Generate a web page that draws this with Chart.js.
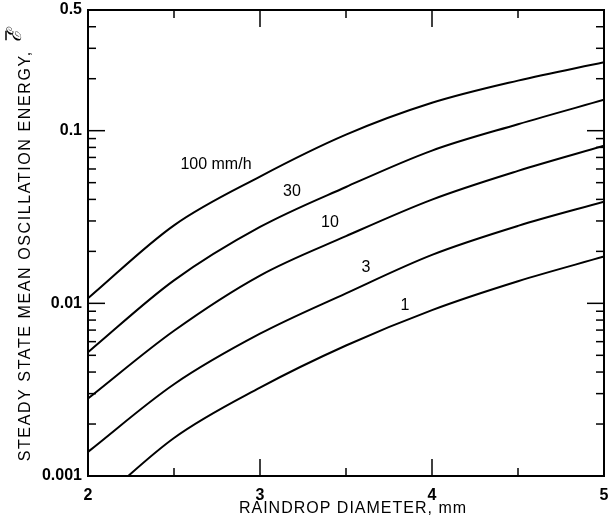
<!DOCTYPE html>
<html>
<head>
<meta charset="utf-8">
<script src="https://cdn.jsdelivr.net/npm/chart.js@4"></script>
<style>
  html, body { margin: 0; padding: 0; background: #fff; }
  #wrap { width: 614px; height: 525px; }
</style>
</head>
<body>
<div id="wrap"><canvas id="energyChart"></canvas></div>
<script>
// raindrop diameter (mm) where the curves were read
const diameters = [2, 2.5, 3, 3.5, 4, 4.5, 5];

// steady state mean oscillation energy for each rain rate
const rate100 = [0.0107, 0.0283, 0.0542, 0.0948, 0.145, 0.195, 0.249];
const rate30  = [0.00521, 0.01358, 0.0277, 0.0472, 0.0767, 0.109, 0.151];
const rate10  = [0.00281, 0.00694, 0.01449, 0.0245, 0.0399, 0.0585, 0.0818];
const rate3   = [0.00138, 0.0034, 0.00667, 0.01143, 0.0191, 0.0281, 0.0388];
const rate1   = [0.00062, 0.00166, 0.00325, 0.0057, 0.00914, 0.01343, 0.01867];

// curve labels and where they sit (data units)
const curveLabels = ['100 mm/h', '30', '10', '3', '1'];
const labelX = [2.744, 3.186, 3.407, 3.616, 3.843];
const labelY = [0.0634, 0.0441, 0.0292, 0.0162, 0.00973];

// axis tick labels and titles
const xTicks = [2, 3, 4, 5];
const yTicks = [0.001, 0.01, 0.1, 0.5];
const xTitle = 'RAINDROP DIAMETER, mm';
const yTitle = 'STEADY STATE MEAN OSCILLATION ENERGY,';
const ySymbol = '\u2130';

const FONT = "'Liberation Sans', Arial, Helvetica, sans-serif";

function series(vals) {
  return {
    data: diameters.map((d, i) => ({ x: d, y: vals[i] })),
    borderColor: '#000',
    borderWidth: 2,
    pointRadius: 0,
    fill: false,
    cubicInterpolationMode: 'monotone'
  };
}

// frame, inward ticks on all four sides, titles and the curve labels
const framePlugin = {
  id: 'frame',
  afterDraw(chart) {
    const ctx = chart.ctx;
    const a = chart.chartArea;
    const xs = chart.scales.x, ys = chart.scales.y;
    ctx.save();
    ctx.strokeStyle = '#000';
    ctx.lineWidth = 2;
    ctx.strokeRect(a.left, a.top, a.right - a.left, a.bottom - a.top);

    ctx.lineWidth = 1.5;
    const tick = (x1, y1, x2, y2) => {
      ctx.beginPath(); ctx.moveTo(x1, y1); ctx.lineTo(x2, y2); ctx.stroke();
    };

    // x: long at whole mm, short at halves
    for (let v = 2.5; v < 5; v += 0.5) {
      const len = Number.isInteger(v) ? 17 : 8;
      const px = xs.getPixelForValue(v);
      tick(px, a.bottom, px, a.bottom - len);
      tick(px, a.top, px, a.top + len);
    }

    // y: long at decades, short at 2..9 multiples
    const yMarks = [];
    for (let dec = 0.001; dec < 0.5; dec *= 10) {
      for (let m = 1; m <= 9; m++) {
        const v = +(dec * m).toPrecision(3);
        if (v <= 0.001 || v >= 0.5) continue;
        yMarks.push({ v, major: m === 1 });
      }
    }
    yMarks.forEach(t => {
      const len = t.major ? 17 : 8;
      const py = ys.getPixelForValue(t.v);
      tick(a.left, py, a.left + len, py);
      tick(a.right, py, a.right - len, py);
    });

    ctx.fillStyle = '#000';
    ctx.font = '16px ' + FONT;
    ctx.textAlign = 'center';
    ctx.textBaseline = 'middle';
    curveLabels.forEach((t, i) => {
      ctx.fillText(t, xs.getPixelForValue(labelX[i]), ys.getPixelForValue(labelY[i]));
    });

    // axis titles, slightly spaced out
    ctx.letterSpacing = '1px';
    ctx.fillText(xTitle, 353, 509);

    ctx.save();
    ctx.translate(26, 245);
    ctx.rotate(-Math.PI / 2);
    ctx.letterSpacing = '1.6px';
    ctx.font = '16px ' + FONT;
    const w1 = ctx.measureText(yTitle).width;
    ctx.font = 'italic 20px ' + FONT;
    const w2 = ctx.measureText(ySymbol).width;
    const start = -(w1 + 8 + w2) / 2;
    ctx.textAlign = 'left';
    ctx.font = '16px ' + FONT;
    ctx.fillText(yTitle, start, 0);
    ctx.letterSpacing = '0px';
    ctx.font = 'italic 20px ' + FONT;
    const sx = start + w1 + 8;
    ctx.fillText(ySymbol, sx, -11);
    ctx.lineWidth = 1.5;
    tick(sx + 2, -20, sx + w2 - 2, -20);
    ctx.restore();

    ctx.restore();
  }
};

new Chart(document.getElementById('energyChart'), {
  type: 'line',
  data: {
    datasets: [series(rate100), series(rate30), series(rate10), series(rate3), series(rate1)]
  },
  options: {
    responsive: true,
    maintainAspectRatio: false,
    animation: false,
    layout: { padding: { top: 10, right: 10, left: 0, bottom: 0 } },
    plugins: { legend: { display: false }, tooltip: { enabled: false } },
    scales: {
      x: {
        type: 'linear',
        min: 2,
        max: 5,
        afterBuildTicks: s => { s.ticks = xTicks.map(v => ({ value: v })); },
        afterFit: s => { s.height = 49; s.paddingLeft = 0; s.paddingRight = 0; },
        grid: { display: false, drawTicks: false },
        border: { display: false },
        ticks: { color: '#000', padding: 10, font: { family: FONT, size: 16, weight: 'bold' }, callback: v => String(v) }
      },
      y: {
        type: 'logarithmic',
        min: 0.001,
        max: 0.5,
        afterBuildTicks: s => { s.ticks = yTicks.map(v => ({ value: v })); },
        afterFit: s => { s.width = 88; s.paddingTop = 0; s.paddingBottom = 0; },
        grid: { display: false, drawTicks: false },
        border: { display: false },
        ticks: { color: '#000', padding: 6, font: { family: FONT, size: 16, weight: 'bold' }, callback: v => String(v) }
      }
    }
  },
  plugins: [framePlugin]
});
</script>
</body>
</html>
